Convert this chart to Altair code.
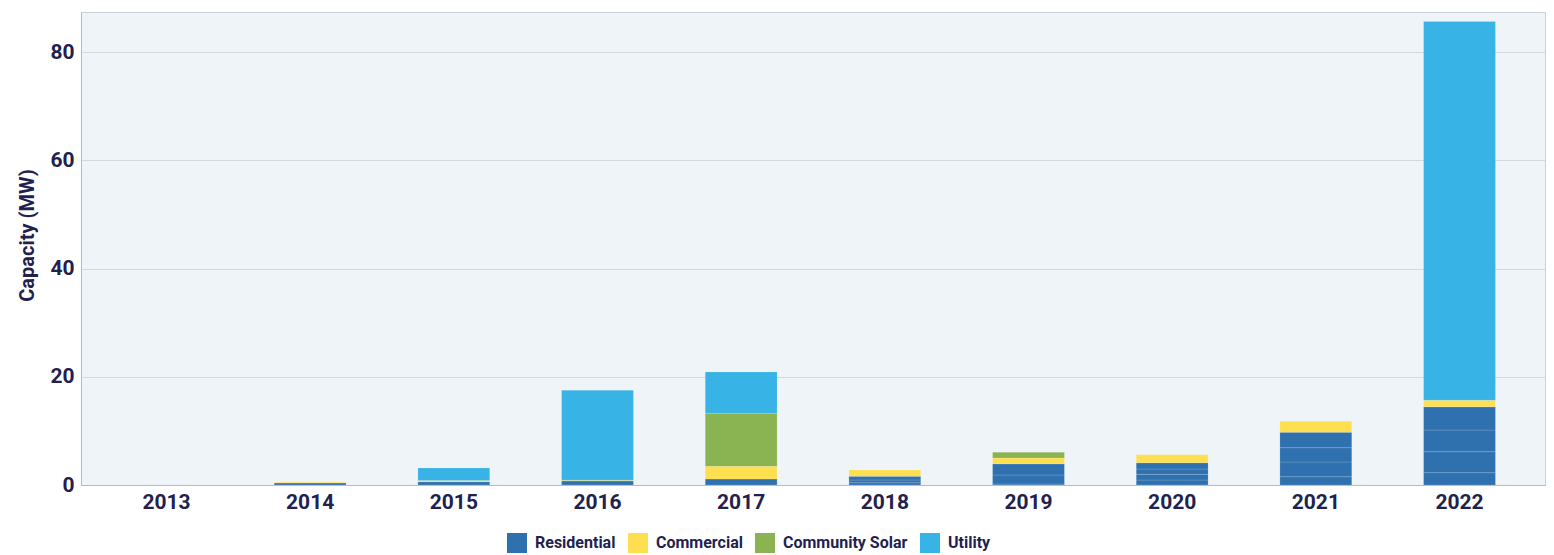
import altair as alt
import pandas as pd

years = ["2013", "2014", "2015", "2016", "2017", "2018", "2019", "2020", "2021", "2022"]
categories = ["Residential", "Commercial", "Community Solar", "Utility"]
colors = ["#2f70ae", "#fedf50", "#8ab352", "#38b3e5"]

# residential capacity, split into the sub-segments visible inside each bar
residential_parts = [
    [0.0],
    [0.35],
    [0.6],
    [0.75],
    [1.1],
    [0.42, 0.5, 0.68],
    [0.2, 1.65, 2.05],
    [0.92, 1.05, 0.98, 1.16],
    [1.53, 2.72, 2.64, 2.85],
    [2.27, 3.88, 4.0, 4.3],
]
commercial = [0.0, 0.15, 0.25, 0.15, 2.35, 1.15, 1.1, 1.5, 2.05, 1.2]
community_solar = [0.0, 0.0, 0.0, 0.0, 9.8, 0.0, 1.05, 0.0, 0.0, 0.0]
utility = [0.0, 0.0, 2.3, 16.6, 7.65, 0.0, 0.0, 0.0, 0.0, 70.0]

rows = []
for i, y in enumerate(years):
    for j, v in enumerate(residential_parts[i]):
        rows.append({"year": y, "category": "Residential", "value": v, "ord": j})
    rows.append({"year": y, "category": "Commercial", "value": commercial[i], "ord": 10})
    rows.append({"year": y, "category": "Community Solar", "value": community_solar[i], "ord": 20})
    rows.append({"year": y, "category": "Utility", "value": utility[i], "ord": 30})
df = pd.DataFrame(rows)
df = df[df["value"] > 0]

text_color = "#231f4f"
font = "Roboto"

chart = alt.Chart(df).mark_bar(
    stroke="white", strokeOpacity=0.15, strokeWidth=1
).encode(
    x=alt.X(
        "year:N",
        sort=years,
        scale=alt.Scale(domain=years, paddingInner=0.5, paddingOuter=0.345),
        axis=alt.Axis(title=None, labelAngle=0, labelPadding=6, grid=False),
    ),
    y=alt.Y(
        "value:Q",
        stack="zero",
        scale=alt.Scale(domain=[0, 87.4], nice=False, zero=True),
        axis=alt.Axis(
            values=[0, 20, 40, 60, 80],
            title="Capacity (MW)",
            labelPadding=7,
            titleX=-54,
            titleY=223,
            titleAngle=-90,
            titleAlign="center",
            titleBaseline="middle",
        ),
    ),
    color=alt.Color(
        "category:N",
        scale=alt.Scale(domain=categories, range=colors),
        legend=alt.Legend(
            title=None,
            orient="none",
            legendX=426,
            legendY=521,
            direction="horizontal",
            symbolType="square",
            symbolSize=400,
            symbolStrokeWidth=0,
            symbolOpacity=1,
            labelFont=font,
            labelFontSize=16,
            labelFontWeight="bold",
            labelColor=text_color,
            labelOffset=8,
            columnPadding=12,
            padding=0,
        ),
    ),
    order=alt.Order("ord:Q", sort="ascending"),
).properties(
    width=1464,
    height=473,
    background="white",
    autosize=alt.AutoSizeParams(type="none"),
    padding={"left": 81, "top": 12, "right": 9, "bottom": 70},
).configure_view(
    fill="#eef4f7",
    stroke="#cbd0d6",
    strokeWidth=1,
).configure_axis(
    labelFont=font,
    labelFontSize=21,
    labelFontWeight="bold",
    labelColor=text_color,
    titleFont=font,
    titleFontSize=20,
    titleFontWeight="bold",
    titleColor=text_color,
    ticks=False,
    domainColor="#b5bbc3",
    gridColor="#d3d8dc",
    gridWidth=1,
)

chart.save("out.html", embed_options={"renderer": "svg", "actions": False})
